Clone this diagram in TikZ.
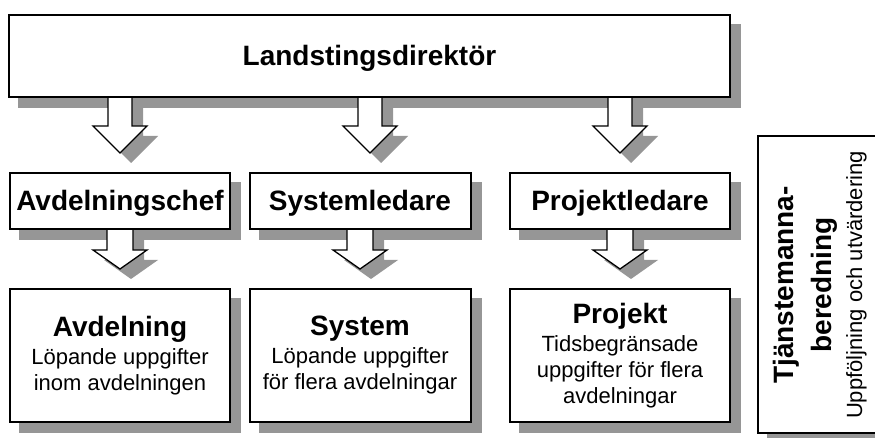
\documentclass[tikz,border=0pt]{standalone}
\usepackage{fontspec}
\setmainfont{Liberation Sans}
\usetikzlibrary{calc}
\definecolor{shadowgray}{RGB}{150,150,150}
\pgfdeclarelayer{shadowlayer}
\pgfdeclarelayer{arrowlayer}
\pgfsetlayers{shadowlayer,arrowlayer,main}
\newcommand\mytitlefont{\bfseries\fontsize{28}{30}\selectfont}
\newcommand\mybodyfont{\fontsize{22}{26}\selectfont}
% block arrow: centre x, top y, head base y, tip y, shaft half width, head half width
\newcommand\barrowpath[6]{(#1-#5,#2) -- (#1+#5,#2) -- (#1+#5,#3) -- (#1+#6,#3) -- (#1,#4) -- (#1-#6,#3) -- (#1-#5,#3) -- cycle}
\newcommand\boxshadow[1]{\fill[shadowgray] ($(#1.south west)+(10,10)$) rectangle ($(#1.north east)+(10,10)$);}
\begin{document}
\begin{tikzpicture}[x=1pt,y=-1pt,
  box/.style={draw=black, line width=2pt, fill=white, inner sep=0pt, align=center},
  onebox/.style={box, font=\mytitlefont, text height=20pt, text depth=0pt},
  multibox/.style={box, font=\mybodyfont, minimum width=220pt, minimum height=133pt},
  arrowbody/.style={fill=white, draw=black, line width=1.3pt, line join=miter},
  arrowshadow/.style={fill=shadowgray, shift={(11,10)}},
  vtext/.style={rotate=90, anchor=base, inner sep=0pt}]
\useasboundingbox (0,0) rectangle (875,438);
\clip (0,0) rectangle (875,438);

% boxes
\node[onebox, minimum width=721pt, minimum height=82pt] (ld) at (369.5,56) {Landstingsdirektör};

\node[onebox, minimum width=220pt, minimum height=56pt] (ac) at (120,201) {Avdelningschef};
\node[onebox, minimum width=221pt, minimum height=56pt] (sl) at (360,201) {Systemledare};
\node[onebox, minimum width=220pt, minimum height=56pt] (pl) at (620,201) {Projektledare};

\node[multibox] (avd) at (120,355.5) {{\mytitlefont Avdelning}\\[2pt]Löpande uppgifter\\inom avdelningen};
\node[multibox, minimum width=221pt] (sys) at (360,355.5) {{\mytitlefont System}\\[2pt]Löpande uppgifter\\för flera avdelningar};
\node[multibox] (proj) at (620,355.5) {{\mytitlefont Projekt}\\[2pt]Tidsbegränsade\\uppgifter för flera\\avdelningar};

\node[box, minimum width=142pt, minimum height=297pt] (tj) at (829,284.5) {};
\node[vtext, font=\mytitlefont] (tj1) at (793,285) {Tjänstemanna-};
\node[vtext, font=\mytitlefont] (tj2) at (831,285) {beredning};
\node[vtext, font=\mybodyfont] (tj3) at (862,285) {Uppföljning och utvärdering};

% shadows
\begin{pgfonlayer}{shadowlayer}
  \boxshadow{ld}
  \boxshadow{ac}\boxshadow{sl}\boxshadow{pl}
  \boxshadow{avd}\boxshadow{sys}\boxshadow{proj}
  \boxshadow{tj}
  \fill[arrowshadow] \barrowpath{120}{97}{126}{153}{12}{27};
  \fill[arrowshadow] \barrowpath{370}{97}{126}{153}{12}{27};
  \fill[arrowshadow] \barrowpath{620}{97}{126}{153}{12}{27};
  \fill[arrowshadow] \barrowpath{120}{229}{250}{269}{13}{27};
  \fill[arrowshadow] \barrowpath{360}{229}{250}{269}{13}{27};
  \fill[arrowshadow] \barrowpath{620}{229}{250}{269}{13}{27};
\end{pgfonlayer}

% block arrows
\begin{pgfonlayer}{arrowlayer}
  \path[arrowbody] \barrowpath{120}{97}{126}{153}{12}{27};
  \path[arrowbody] \barrowpath{370}{97}{126}{153}{12}{27};
  \path[arrowbody] \barrowpath{620}{97}{126}{153}{12}{27};
  \path[arrowbody] \barrowpath{120}{229}{250}{269}{13}{27};
  \path[arrowbody] \barrowpath{360}{229}{250}{269}{13}{27};
  \path[arrowbody] \barrowpath{620}{229}{250}{269}{13}{27};
\end{pgfonlayer}
\end{tikzpicture}
\end{document}
